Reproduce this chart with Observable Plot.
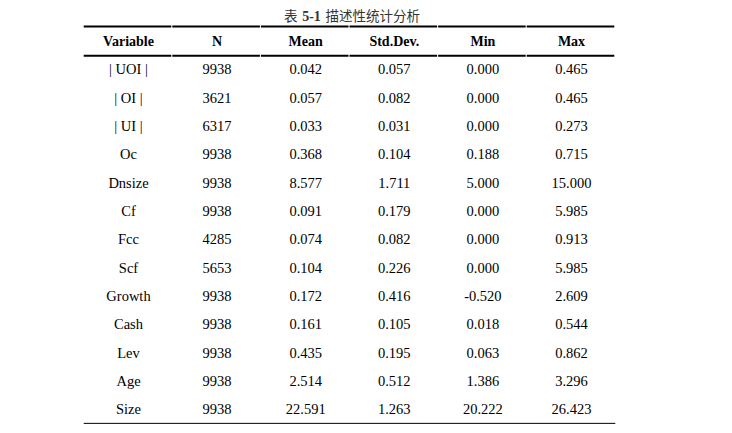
<!DOCTYPE html>
<html>
<head>
<meta charset="utf-8">
<script src="https://cdn.jsdelivr.net/npm/d3@7"></script>
<script src="https://cdn.jsdelivr.net/npm/@observablehq/plot@0.6"></script>
<style>
  html, body { margin: 0; padding: 0; background: #fff; }
</style>
</head>
<body>
<div id="chart"></div>
<script>
// ---- data ----
const titlePrefix = "表";
const titleNumber = "5-1";
const titleText = "描述性统计分析";
const headers = ["Variable", "N", "Mean", "Std.Dev.", "Min", "Max"];
const variables = ["| UOI |", "| OI |", "| UI |", "Oc", "Dnsize", "Cf", "Fcc", "Scf", "Growth", "Cash", "Lev", "Age", "Size"];
const nValues = [9938, 3621, 6317, 9938, 9938, 9938, 4285, 5653, 9938, 9938, 9938, 9938, 9938];
const meanValues = [0.042, 0.057, 0.033, 0.368, 8.577, 0.091, 0.074, 0.104, 0.172, 0.161, 0.435, 2.514, 22.591];
const sdValues = [0.057, 0.082, 0.031, 0.104, 1.711, 0.179, 0.082, 0.226, 0.416, 0.105, 0.195, 0.512, 1.263];
const minValues = [0.000, 0.000, 0.000, 0.188, 5.000, 0.000, 0.000, 0.000, -0.520, 0.018, 0.063, 1.386, 20.222];
const maxValues = [0.465, 0.465, 0.273, 0.715, 15.000, 5.985, 0.913, 5.985, 2.609, 0.544, 0.862, 3.296, 26.423];

// ---- build table cells ----
const headerCells = headers.map((h, j) => ({col: j, row: 0, label: h}));
const bodyCells = [];
variables.forEach((v, i) => {
  const r = i + 1;
  bodyCells.push({col: 0, row: r, label: v, kind: "text"});
  bodyCells.push({col: 1, row: r, label: String(nValues[i]), kind: "num"});
  bodyCells.push({col: 2, row: r, label: meanValues[i].toFixed(3), kind: "num"});
  bodyCells.push({col: 3, row: r, label: sdValues[i].toFixed(3), kind: "num"});
  bodyCells.push({col: 4, row: r, label: minValues[i].toFixed(3), kind: "num"});
  bodyCells.push({col: 5, row: r, label: maxValues[i].toFixed(3), kind: "num"});
});

const nRows = variables.length;
// horizontal rules: top, under header (segmented per column), bottom
const topY = -0.53, headY = 0.5, bottomY = nRows + 0.49;
const segRules = [];
headers.forEach((h, j) => {
  segRules.push({y: topY, x1: j - 0.5, x2: j + 0.5});
  segRules.push({y: headY, x1: j - 0.5, x2: j + 0.5});
});
const bottomRule = [{y: bottomY, x1: -0.5, x2: headers.length - 0.5}];

const serif = "'Liberation Serif', 'Times New Roman', serif";
const cjk = "'Noto Sans CJK SC', sans-serif";

const chart = Plot.plot({
  width: 732,
  height: 433,
  margin: 0,
  style: {background: "#fff", color: "#000"},
  x: {type: "linear", domain: [0, headers.length - 1], range: [128, 571], axis: null},
  y: {type: "linear", domain: [0, nRows], range: [41, 409], axis: null},
  marks: [
    Plot.ruleY(segRules, {y: "y", x1: "x1", x2: "x2", stroke: "#000", strokeWidth: 2, insetRight: 1}),
    Plot.ruleY(bottomRule, {y: "y", x1: "x1", x2: "x2", stroke: "#000", strokeWidth: 1}),
    Plot.text(headerCells, {x: "col", y: "row", text: "label", fontFamily: serif, fontSize: 14, fontWeight: "bold", fill: "#000"}),
    Plot.text(bodyCells.filter(d => d.kind === "text"), {x: "col", y: "row", text: "label", fontFamily: serif, fontSize: 14.5, fill: "#000"}),
    Plot.text(bodyCells.filter(d => d.kind === "num"), {x: "col", y: "row", text: "label", fontFamily: serif, fontSize: 14.5, fill: "#000", letterSpacing: "0.4px"}),
    // title
    Plot.text([titlePrefix], {frameAnchor: "top", dy: 16, dx: -69, textAnchor: "end", lineAnchor: "middle", fontFamily: cjk, fontSize: 13.5, fill: "#333"}),
    Plot.text([titleNumber], {frameAnchor: "top", dy: 16, dx: -55, textAnchor: "middle", lineAnchor: "middle", fontFamily: serif, fontSize: 14, fontWeight: "bold", fill: "#333"}),
    Plot.text([titleText], {frameAnchor: "top", dy: 16, dx: -41, textAnchor: "start", lineAnchor: "middle", fontFamily: cjk, fontSize: 13.5, fill: "#333"})
  ]
});
document.getElementById("chart").appendChild(chart);
</script>
</body>
</html>
